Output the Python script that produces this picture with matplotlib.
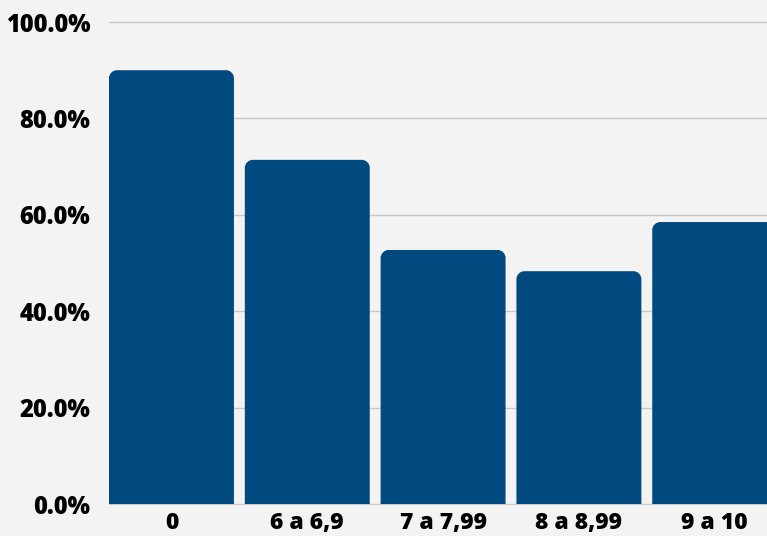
import matplotlib
matplotlib.use("Agg")
import matplotlib.pyplot as plt
from matplotlib.patches import PathPatch
from matplotlib.path import Path
from matplotlib import font_manager

categories = ["0", "6 a 6,9", "7 a 7,99", "8 a 8,99", "9 a 10"]
values = [90.0, 71.4, 52.7, 48.3, 58.5]
yticks = [0, 20, 40, 60, 80, 100]

BG = "#f3f3f3"
BAR = "#004a7f"
GRID = "#c8c8c8"

plt.rcParams['font.family'] = ['Open Sans', 'DejaVu Sans']

W, H, DPI = 767, 536, 100
fig = plt.figure(figsize=(W / DPI, H / DPI), dpi=DPI, facecolor=BG)

ymin, ymax = -0.3, 101.0
px_per_unit = 482 / 100.0
bottom_px = 504 + (0 - ymin) * px_per_unit
top_px = 504 - ymax * px_per_unit
left_px = 109
ax = fig.add_axes([left_px / W, 1 - bottom_px / H, (W - left_px) / W, (bottom_px - top_px) / H])
ax.set_facecolor(BG)

xlim = (-0.46, 4.385)
ax.set_xlim(*xlim)
ax.set_ylim(ymin, ymax)

bw = 0.92
bars = ax.bar(range(len(categories)), values, width=bw, color=BAR, zorder=2)

# rounded top corners via custom path
px_per_x = (W - left_px) / (xlim[1] - xlim[0])
r_px = 8
rx = r_px / px_per_x
ry = r_px / px_per_unit
k = 0.5523
for b in bars:
    x, w, h = b.get_x(), b.get_width(), b.get_height()
    b.set_visible(False)
    x0, x1 = x, x + w
    verts = [
        (x0, 0), (x0, h - ry),
        (x0, h - ry + k * ry), (x0 + rx - k * rx, h), (x0 + rx, h),
        (x1 - rx, h),
        (x1 - rx + k * rx, h), (x1, h - ry + k * ry), (x1, h - ry),
        (x1, 0), (x0, 0),
    ]
    codes = [Path.MOVETO, Path.LINETO,
             Path.CURVE4, Path.CURVE4, Path.CURVE4,
             Path.LINETO,
             Path.CURVE4, Path.CURVE4, Path.CURVE4,
             Path.LINETO, Path.CLOSEPOLY]
    ax.add_patch(PathPatch(Path(verts, codes), fc=BAR, ec="none", zorder=2))

ax.set_yticks(yticks)
ax.set_yticklabels([f"{v:.1f}%" for v in yticks])
ax.set_xticks(range(len(categories)))
ax.set_xticklabels(categories)
ax.yaxis.grid(True, color=GRID, linewidth=1.0, zorder=0)
ax.set_axisbelow(True)
for s in ax.spines.values():
    s.set_visible(False)
ax.tick_params(axis='both', length=0)
ax.tick_params(axis='y', pad=13.5, labelsize=17)
ax.tick_params(axis='x', pad=4, labelsize=16.5)
for lab in ax.get_yticklabels() + ax.get_xticklabels():
    lab.set_fontweight(800)
    lab.set_color('black')

fig.savefig("out.png", dpi=DPI, facecolor=BG)
